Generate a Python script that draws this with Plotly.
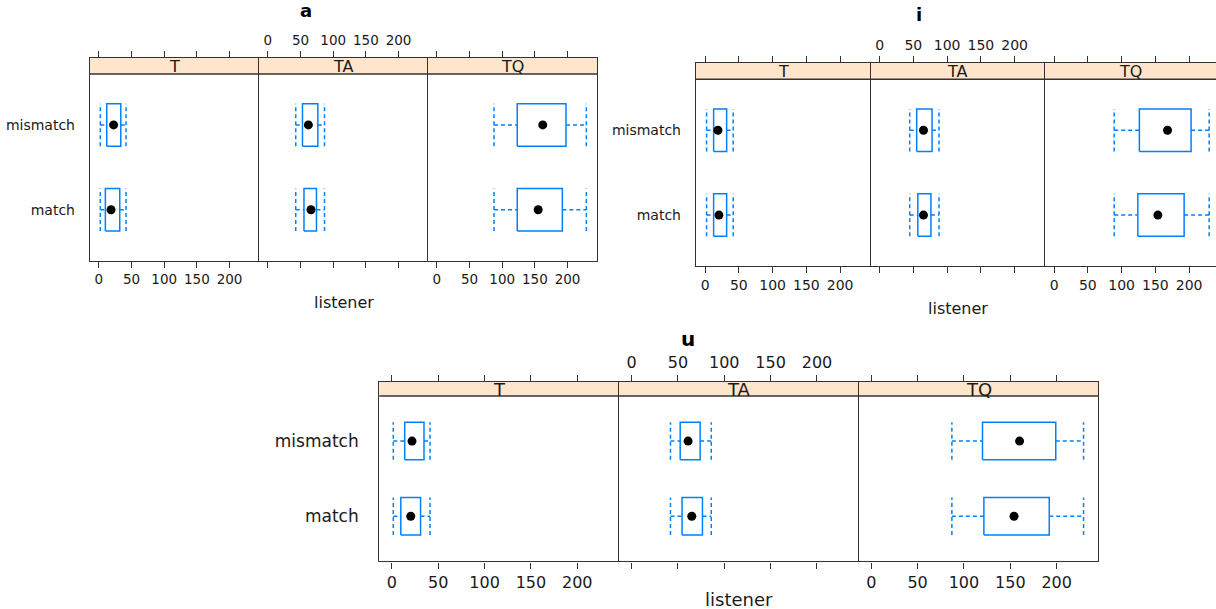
import plotly.graph_objects as go

# ---------------- data ----------------
conditions = ["T", "TA", "TQ"]
levels = ["match", "mismatch"]
tick_values = [0, 50, 100, 150, 200]
tick_labels = ["0", "50", "100", "150", "200"]

# order of the six boxes: T-match, T-mismatch, TA-match, TA-mismatch, TQ-match, TQ-mismatch
a_low = [2.3, 2.3, 42.7, 42.7, 87.5, 87.5]
a_q1 = [10.0, 12.1, 55.3, 53.0, 123.0, 123.0]
a_med = [18.7, 22.6, 66.0, 62.0, 155.0, 162.0]
a_q3 = [32.0, 33.6, 74.4, 76.5, 192.0, 197.6]
a_high = [41.6, 41.6, 86.7, 86.7, 228.7, 228.7]

i_low = [2.2, 2.2, 44.6, 44.6, 89.0, 89.0]
i_q1 = [12.6, 12.6, 56.6, 54.9, 124.0, 126.3]
i_med = [20.5, 19.0, 65.0, 65.0, 153.7, 168.0]
i_q3 = [31.9, 31.9, 76.0, 77.7, 192.6, 202.9]
i_high = [41.6, 41.6, 88.0, 88.0, 229.7, 229.7]

u_low = [1.6, 1.6, 42.0, 42.0, 87.0, 87.0]
u_q1 = [9.7, 13.9, 54.5, 52.5, 121.5, 120.0]
u_med = [20.4, 21.8, 65.0, 61.0, 154.0, 160.0]
u_q3 = [31.0, 34.7, 76.5, 74.0, 192.0, 199.0]
u_high = [41.2, 41.2, 86.0, 86.0, 229.0, 229.0]

vowels = ["a", "i", "u"]
stats = {
    "a": (a_low, a_q1, a_med, a_q3, a_high),
    "i": (i_low, i_q1, i_med, i_q3, i_high),
    "u": (u_low, u_q1, u_med, u_q3, u_high),
}

# ---------------- layout geometry (pixels) ----------------
W, H = 1216, 609
XMIN = -13.5
XSPAN = 258.5
geom = {
    "a": dict(xs=[90, 259, 428, 597], top=58, strip=74, bottom=260.7,
              title=(305.7, 11), xlab=(343.5, 302.5), tick=13.5, ylab=14,
              strip_font=16, title_font=18, xlab_font=16, standoff=11),
    "i": dict(xs=[696, 870.5, 1045, 1219.5], top=62.7, strip=79.3, bottom=266,
              title=(919, 15), xlab=(957.7, 308), tick=14, ylab=14,
              strip_font=16, title_font=18, xlab_font=16, standoff=11),
    "u": dict(xs=[379.3, 619, 858.7, 1098.3], top=382, strip=396, bottom=561.3,
              title=(687.7, 339), xlab=(738.8, 599), tick=16, ylab=17,
              strip_font=18, title_font=20, xlab_font=18, standoff=16),
}

BLUE = "#0080FF"
FRAME = "#333333"
FONT = "DejaVu Sans"


def fx(x):
    return x / W


def fy(y):
    return 1 - y / H


fig = go.Figure()
layout = dict(width=W, height=H, margin=dict(l=0, r=0, t=0, b=0),
              paper_bgcolor="white", plot_bgcolor="white", showlegend=False,
              font=dict(family=FONT, color="black"))
shapes = []
annotations = []

n = 0
for v in vowels:
    g = geom[v]
    low, q1, med, q3, high = stats[v]
    scale = (g["xs"][1] - g["xs"][0]) / XSPAN
    hint = g["bottom"] - g["strip"]
    ytop = 2.6 + 2.2 * (g["strip"] - g["top"]) / hint
    for c, cond in enumerate(conditions):
        n += 1
        xa = "x" if n == 1 else f"x{n}"
        ya = "y" if n == 1 else f"y{n}"
        x0, x1 = g["xs"][c], g["xs"][c + 1]
        clipped = x1 > W
        if clipped:
            x1 = W
        xr = [XMIN, XMIN + (x1 - x0) / scale]

        bx, by, dx, dy, mx, my = [], [], [], [], [], []
        for li, lev in enumerate(levels):
            k = 2 * c + li
            yc = li + 1
            h = 0.25
            bx += [q1[k], q3[k], q3[k], q1[k], q1[k], None]
            by += [yc - h, yc - h, yc + h, yc + h, yc - h, None]
            dx += [low[k], q1[k], None, q3[k], high[k], None,
                   low[k], low[k], None, high[k], high[k], None]
            dy += [yc, yc, None, yc, yc, None,
                   yc - h, yc + h, None, yc - h, yc + h, None]
            mx.append(med[k])
            my.append(yc)
        fig.add_trace(go.Scatter(x=dx, y=dy, mode="lines", xaxis=xa, yaxis=ya,
                                 line=dict(color=BLUE, width=1.5, dash="4px,3px"),
                                 hoverinfo="skip"))
        fig.add_trace(go.Scatter(x=bx, y=by, mode="lines", xaxis=xa, yaxis=ya,
                                 line=dict(color=BLUE, width=1.5), hoverinfo="skip"))
        fig.add_trace(go.Scatter(x=mx, y=my, mode="markers", xaxis=xa, yaxis=ya,
                                 marker=dict(color="black", size=9, symbol="circle"),
                                 hoverinfo="skip"))

        xkey = "xaxis" if n == 1 else f"xaxis{n}"
        ykey = "yaxis" if n == 1 else f"yaxis{n}"
        layout[xkey] = dict(
            domain=[fx(x0), fx(x1)], range=xr, anchor=ya,
            side="top" if c == 1 else "bottom",
            tickmode="array", tickvals=tick_values, ticktext=tick_labels,
            ticks="outside", ticklen=6, tickwidth=1.2, tickcolor=FRAME,
            showline=True, linecolor=FRAME, linewidth=1.4, mirror="ticks",
            showgrid=False, zeroline=False, fixedrange=True,
            tickfont=dict(family=FONT, size=g["tick"], color="#1a1a1a"),
        )
        layout[ykey] = dict(
            domain=[fy(g["bottom"]), fy(g["top"])], range=[0.4, ytop], anchor=xa,
            tickmode="array", tickvals=[1, 2], ticktext=levels,
            showticklabels=(c == 0), ticks="", ticklabelstandoff=g["standoff"],
            showline=True, linecolor=FRAME, linewidth=1.4,
            mirror=(c == 2 and not clipped),
            showgrid=False, zeroline=False, fixedrange=True,
            tickfont=dict(family=FONT, size=g["ylab"], color="#1a1a1a"),
        )
        shapes.append(dict(type="rect", xref=f"{xa} domain", x0=0, x1=1,
                           yref=ya, y0=2.6, y1=ytop, fillcolor="#FFE5CC",
                           line=dict(width=0), layer="below"))
        shapes.append(dict(type="line", xref=f"{xa} domain", x0=0, x1=1,
                           yref=ya, y0=2.6, y1=2.6,
                           line=dict(color=FRAME, width=1.4), layer="above"))
        annotations.append(dict(text=cond, xref=f"{xa} domain", x=0.5,
                                yref=ya, y=(2.6 + ytop) / 2, showarrow=False,
                                xanchor="center", yanchor="middle",
                                font=dict(family=FONT, size=g["strip_font"], color="#1a1a1a")))

    tx, ty = g["title"]
    annotations.append(dict(text=f"<b>{v}</b>", xref="paper", yref="paper",
                            x=fx(tx), y=fy(ty), showarrow=False,
                            xanchor="center", yanchor="middle",
                            font=dict(family=FONT, size=g["title_font"], color="black")))
    lx, ly = g["xlab"]
    annotations.append(dict(text="listener", xref="paper", yref="paper",
                            x=fx(lx), y=fy(ly), showarrow=False,
                            xanchor="center", yanchor="middle",
                            font=dict(family=FONT, size=g["xlab_font"], color="#1a1a1a")))

layout["shapes"] = shapes
layout["annotations"] = annotations
fig.update_layout(**layout)
fig.write_html("out.html", config={"displayModeBar": False},
               post_script="document.body.style.margin='0px';document.body.style.overflow='hidden';")
